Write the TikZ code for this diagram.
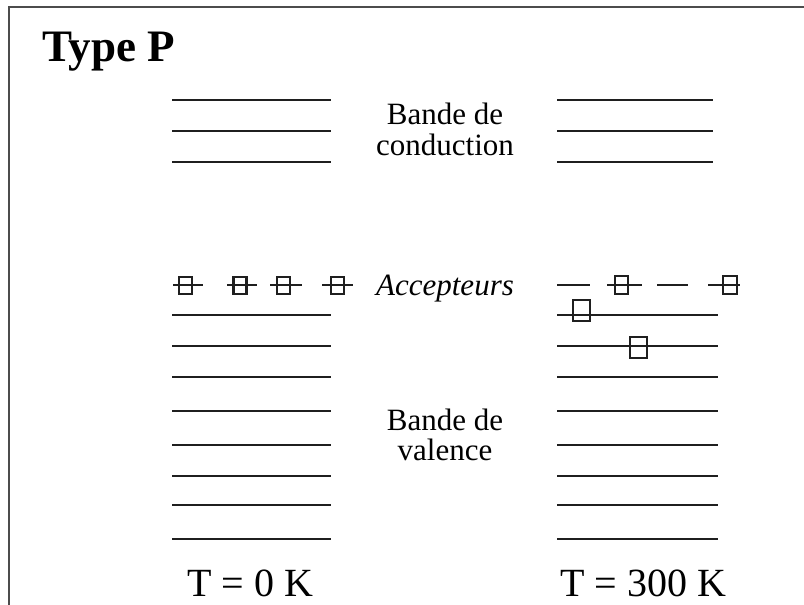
\documentclass[tikz,border=0pt]{standalone}
\usepackage{fontspec}
\setmainfont{Liberation Serif}
\begin{document}
\begin{tikzpicture}[x=1pt,y=-1pt,
  level/.style={line width=2.6pt, black!88},
  frameline/.style={line width=2.8pt, black!70},
  trapbox/.style={draw=black!88, line width=2.2pt},
  label/.style={inner sep=0pt, anchor=base, font=\fontsize{31}{31}\selectfont},
  templabel/.style={inner sep=0pt, anchor=base west, font=\fontsize{40}{40}\selectfont},
  title/.style={inner sep=0pt, anchor=base west, font=\fontsize{45}{45}\selectfont\bfseries}]
  % page extent
  \useasboundingbox (0,0) rectangle (804,605);
  % open frame: top and left edges only
  \draw[frameline] (9,605) -- (9,7) -- (804,7);

  \node[title] (type) at (42,61) {Type P};

  % conduction band, T = 0 K and T = 300 K
  \foreach \y in {100,131,162} {
    \draw[level] (172,\y) -- (331,\y);
    \draw[level] (557,\y) -- (713,\y);
  }
  \node[label] (cb1) at (445,124) {Bande de};
  \node[label] (cb2) at (445,155) {conduction};

  % valence band
  \foreach \y in {315,346,377,411,445,476,505,539} {
    \draw[level] (172,\y) -- (331,\y);
    \draw[level] (557,\y) -- (718,\y);
  }
  \node[label] (vb1) at (445,430) {Bande de};
  \node[label] (vb2) at (445,460) {valence};

  % acceptor levels at 0 K: all occupied
  \foreach \a/\b/\c in {173/203/185.5, 227/257/240, 270/302/283.5, 322/353/337.5} {
    \draw[level] (\a,285) -- (\b,285);
    \draw[trapbox] (\c-6.5,277) rectangle (\c+6.5,294);
  }
  % acceptor levels at 300 K: two have captured an electron
  \draw[level] (557,285) -- (590,285);
  \draw[level] (607,285) -- (642,285);
  \draw[trapbox] (615,276) rectangle (628,294);
  \draw[level] (657,285) -- (688,285);
  \draw[level] (708,285) -- (740,285);
  \draw[trapbox] (723,276) rectangle (737,294);
  \node[label, font=\fontsize{31}{31}\selectfont\itshape] (acc) at (445,295) {Accepteurs};

  % holes left in the valence band at 300 K
  \draw[trapbox] (573,300) rectangle (590,321);
  \draw[trapbox] (630,337) rectangle (647,358);

  \node[templabel] (t0) at (187,596) {T = 0 K};
  \node[templabel] (t300) at (560,596) {T = 300 K};
\end{tikzpicture}
\end{document}
